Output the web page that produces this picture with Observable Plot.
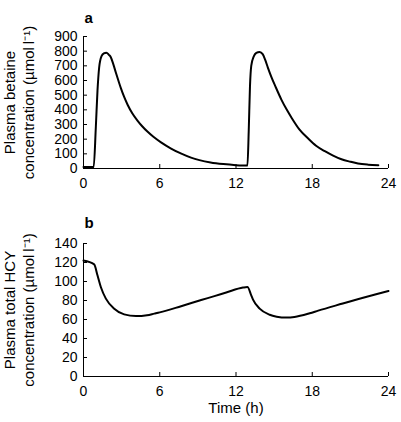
<!DOCTYPE html>
<html>
<head>
<meta charset="utf-8">
<script src="https://cdn.jsdelivr.net/npm/d3@7"></script>
<script src="https://cdn.jsdelivr.net/npm/@observablehq/plot@0.6"></script>
<style>
  html, body { margin: 0; padding: 0; background: #fff; }
  #chart svg { display: block; }
</style>
</head>
<body>
<div id="chart"></div>
<script>
// Panel a: plasma betaine (µmol/l) vs time (h)
const betaineTime = [0, 0.5, 0.8, 0.97, 1.1, 1.23, 1.42, 1.6, 1.8, 2.0, 2.15, 2.35, 2.55, 2.75, 2.94, 3.2, 3.47, 3.85, 4.26, 4.6, 5.05, 5.5, 6.1, 6.89, 7.7, 8.46, 9.12, 10, 11, 12, 12.9,
  13.0, 13.1, 13.2, 13.4, 13.6, 13.86, 14.1, 14.3, 14.5, 14.78, 15.1, 15.57, 16.0, 16.36, 17.0, 17.68, 18.3, 18.99, 19.6, 20.3, 21.0, 21.6, 22.4, 23.2];
const betaineValue = [10, 10, 10, 281, 529, 687, 766, 785, 790, 775, 759, 710, 653, 598, 548, 488, 435, 375, 325, 290, 250, 216, 178, 136, 101, 74, 57, 41, 30, 23, 20,
  250, 560, 700, 765, 788, 795, 780, 740, 690, 625, 560, 470, 400, 348, 265, 204, 155, 118, 90, 63, 46, 34, 26, 22];

// Panel b: plasma total HCY (µmol/l) vs time (h)
const hcyTime = [0, 0.84, 1.1, 1.37, 1.76, 2.42, 3.2, 4.13, 5.0, 5.57, 6.0, 7.68, 9.26, 10.3, 11.23, 12.55, 12.9, 13.2, 13.34, 13.86, 14.65, 15.2, 15.97, 16.6, 17.8, 18.47, 20.4, 21.1, 24];
const hcyValue = [122, 118, 106.5, 94, 82, 71.4, 65.4, 63.6, 64.5, 66.2, 67.5, 74, 80.5, 84.6, 88.4, 93.6, 94.2, 85.5, 81, 71.4, 65, 63, 62, 62.6, 66.5, 69.3, 76.8, 79.5, 90];

const xTicks = [0, 6, 12, 18, 24];
const yTicksA = [0, 100, 200, 300, 400, 500, 600, 700, 800, 900];
const yTicksB = [0, 20, 40, 60, 80, 100, 120, 140];

const panelLabels = ["a", "b"];
const yTitlesA = ["Plasma betaine", "concentration (\u00b5mol\u2009l\u207b\u00b9)"];
const yTitlesB = ["Plasma total HCY", "concentration (\u00b5mol\u2009l\u207b\u00b9)"];
const xTitle = "Time (h)";

const betaine = betaineTime.map((t, i) => ({t, v: betaineValue[i]}));
const hcy = hcyTime.map((t, i) => ({t, v: hcyValue[i]}));

const FONT = "'Liberation Sans', Arial, Helvetica, sans-serif";
const FS = 15;     // titles
const TFS = 14;    // tick labels

function panel({data, yDomain, yTicks, titles, label, height, marginTop, marginBottom, showXTitle}) {
  const marginLeft = 83, marginRight = 13, width = 401;
  const innerW = width - marginLeft - marginRight;
  const innerH = height - marginTop - marginBottom;
  const marks = [
    Plot.axisX({ticks: xTicks, tickSize: 0, tickPadding: 10, fontSize: TFS, label: null, tickFormat: d => String(d)}),
    Plot.axisY({ticks: yTicks, tickSize: 0, tickPadding: 6, fontSize: TFS, label: null, tickFormat: d => String(d)}),
    Plot.tickX(xTicks, {x: d => d, insetTop: innerH - 4, stroke: "#000", strokeWidth: 1}),
    Plot.tickY(yTicks, {y: d => d, insetRight: innerW - 4, stroke: "#000", strokeWidth: 1}),
    Plot.ruleY([yDomain[0]], {stroke: "#000", strokeWidth: 1}),
    Plot.ruleX([0], {stroke: "#000", strokeWidth: 1}),
    Plot.line(data, {x: "t", y: "v", stroke: "#000", strokeWidth: 2, curve: "monotone-x"}),
    Plot.text([label], {frameAnchor: "top-left", dx: 1, dy: -(marginTop - 12), textAnchor: "start", fontWeight: "bold", fontSize: FS}),
    Plot.text([titles[0]], {frameAnchor: "left", rotate: -90, textAnchor: "middle", dx: -(marginLeft - 10), fontSize: FS}),
    Plot.text([titles[1]], {frameAnchor: "left", rotate: -90, textAnchor: "middle", dx: -(marginLeft - 29), fontSize: FS})
  ];
  if (showXTitle) {
    marks.push(Plot.text([xTitle], {frameAnchor: "bottom", dy: 36, fontSize: FS}));
  }
  return Plot.plot({
    width, height, marginLeft, marginRight, marginTop, marginBottom,
    style: {fontFamily: FONT, fontSize: TFS + "px", color: "#000", background: "#fff"},
    x: {domain: [0, 24]},
    y: {domain: yDomain},
    marks
  });
}

const chart = document.getElementById("chart");
chart.appendChild(panel({data: betaine, yDomain: [0, 900], yTicks: yTicksA, titles: yTitlesA, label: panelLabels[0], height: 205, marginTop: 36, marginBottom: 37, showXTitle: false}));
chart.appendChild(panel({data: hcy, yDomain: [0, 140], yTicks: yTicksB, titles: yTitlesB, label: panelLabels[1], height: 217, marginTop: 38, marginBottom: 46, showXTitle: true}));
</script>
</body>
</html>
